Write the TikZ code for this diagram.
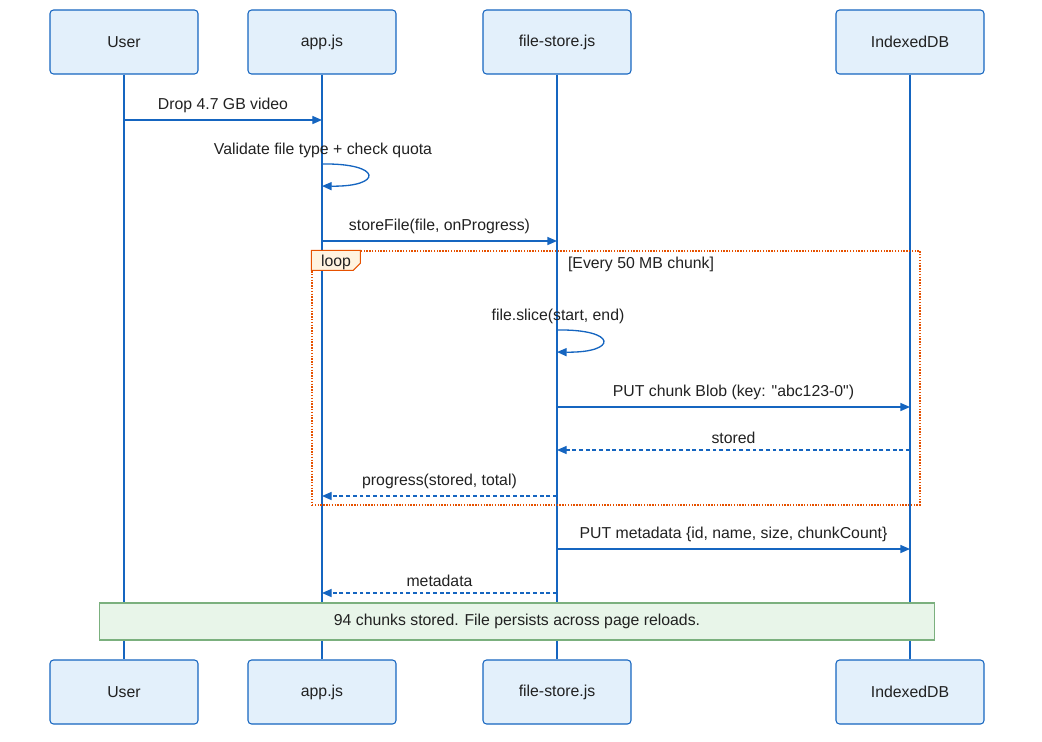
\documentclass[tikz,border=0pt]{standalone}
\usepackage{fontspec}
\setmainfont{Liberation Sans}[Ligatures=TeXOff]
\usepackage{xcolor}
\usetikzlibrary{arrows.meta}

\definecolor{lineblue}{HTML}{1565C0}
\definecolor{boxfill}{HTML}{E3F0FB}
\definecolor{looporange}{HTML}{E65100}
\definecolor{tagfill}{HTML}{FFF3E0}
\definecolor{notefill}{HTML}{E8F5E9}
\definecolor{noteline}{HTML}{7BB07E}
\definecolor{txt}{HTML}{212121}

\begin{document}
\begin{tikzpicture}[
    x=0.02cm, y=-0.02cm,
    font=\fontsize{9}{11}\selectfont, text=txt,
    actor/.style={rectangle, draw=lineblue, fill=boxfill, line width=0.6pt, rounded corners=2pt, minimum width=2.96cm, minimum height=1.28cm, align=center},
    life/.style={draw=lineblue, line width=1.1pt},
    msg/.style={draw=lineblue, line width=0.75pt, -{Triangle[length=5.5pt, width=4.6pt]}},
    reply/.style={msg, dash pattern=on 2.2pt off 1.6pt},
    lbl/.style={above=3.5pt, inner sep=0pt},
    loopbox/.style={rectangle, draw=looporange, line width=0.8pt, dash pattern=on 0.8pt off 0.8pt, minimum width=12.16cm, minimum height=5.08cm},
    note/.style={rectangle, draw=noteline, fill=notefill, line width=0.6pt, minimum width=16.72cm, minimum height=0.74cm}
]
    \useasboundingbox (0,0) rectangle (1042,741);

    % participants
    \node[actor] (user) at (124,42) {User};
    \node[actor] (app) at (322,42) {app.js};
    \node[actor] (store) at (557,42) {file-store.js};
    \node[actor] (idb) at (910,42) {IndexedDB};

    \node[actor] (userB) at (124,692) {User};
    \node[actor] (appB) at (322,692) {app.js};
    \node[actor] (storeB) at (557,692) {file-store.js};
    \node[actor] (idbB) at (910,692) {IndexedDB};

    % lifelines
    \draw[life] (user) -- (userB);
    \draw[life] (app) -- (appB);
    \draw[life] (store) -- (storeB);
    \draw[life] (idb) -- (idbB);

    % points on the lifelines
    \coordinate (u1) at (124,120);
    \coordinate (a1) at (322,120);
    \coordinate (a2) at (322,164);
    \coordinate (a3) at (322,186);
    \coordinate (a4) at (322,241);
    \coordinate (s4) at (557,241);
    \coordinate (s5) at (557,330);
    \coordinate (s6) at (557,352);
    \coordinate (s7) at (557,407);
    \coordinate (d7) at (910,407);
    \coordinate (d8) at (910,450);
    \coordinate (s8) at (557,450);
    \coordinate (s9) at (557,496);
    \coordinate (a9) at (322,496);
    \coordinate (s10) at (557,549);
    \coordinate (d10) at (910,549);
    \coordinate (s11) at (557,593);
    \coordinate (a11) at (322,593);

    \draw[msg] (u1) -- node[lbl] (m1) {Drop 4.7 GB video} (a1);

    \node (m2) at (323,150) {Validate file type + check quota};
    \draw[msg] (a2) .. controls (383,163) and (383,187) .. (a3);

    \draw[msg] (a4) -- node[lbl] (m3) {storeFile(file, onProgress)} (s4);

    % loop frame
    \node[loopbox] (loop) at (616,378) {};
    \draw[draw=looporange, fill=tagfill, line width=0.6pt]
        (loop.north west) -- ++(49,0) -- ++(0,13) -- ++(-7,7) -- ++(-42,0) -- cycle;
    \node (looptag) at (336,262) {loop};
    \node (cond) at (641,264) {[Every 50 MB chunk]};

    \node (m4) at (558,316) {file.slice(start, end)};
    \draw[msg] (s5) .. controls (618,329) and (618,353) .. (s6);

    \draw[msg] (s7) -- node[lbl] (m5) {PUT chunk Blob (key: "abc123-0")} (d7);
    \draw[reply] (d8) -- node[lbl] (m6) {stored} (s8);
    \draw[reply] (s9) -- node[lbl] (m7) {progress(stored, total)} (a9);

    \draw[msg] (s10) -- node[lbl] (m8) {PUT metadata \{id, name, size, chunkCount\}} (d10);
    \draw[reply] (s11) -- node[lbl] (m9) {metadata} (a11);

    % note
    \node[note] (done) at (517,621.5) {94 chunks stored. File persists across page reloads.};
\end{tikzpicture}
\end{document}
